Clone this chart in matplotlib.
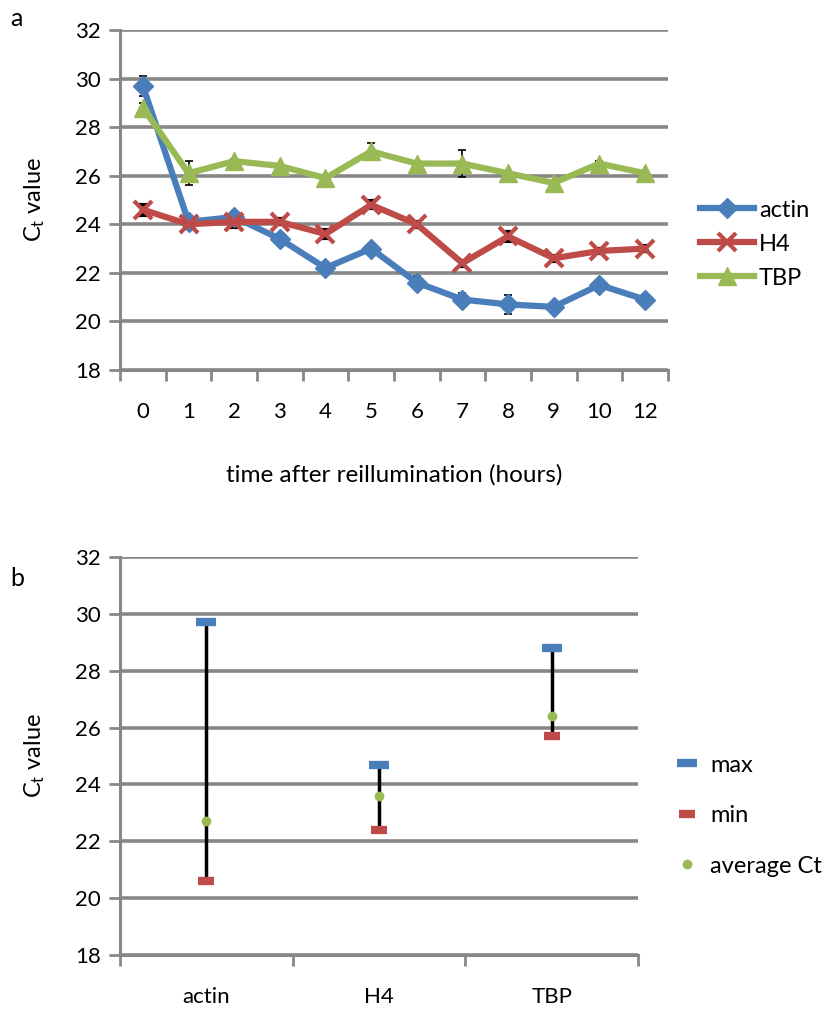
import matplotlib
matplotlib.use("Agg")
import matplotlib.pyplot as plt
import numpy as np

plt.rcParams['font.family'] = ['Lato', 'DejaVu Sans']
plt.rcParams['mathtext.fontset'] = 'custom'
plt.rcParams['mathtext.rm'] = 'Lato'
plt.rcParams['mathtext.it'] = 'Lato:italic'

# panel a data
hours = ['0', '1', '2', '3', '4', '5', '6', '7', '8', '9', '10', '12']
actin = [29.7, 24.1, 24.3, 23.4, 22.2, 23.0, 21.6, 20.9, 20.7, 20.6, 21.5, 20.9]
actin_err = [0.4, 0.15, 0.2, 0.15, 0.2, 0.15, 0.25, 0.25, 0.4, 0.15, 0.15, 0.1]
h4 = [24.6, 24.0, 24.1, 24.1, 23.6, 24.8, 24.0, 22.4, 23.5, 22.6, 22.9, 23.0]
h4_err = [0.2, 0.15, 0.2, 0.1, 0.15, 0.15, 0.1, 0.1, 0.2, 0.1, 0.1, 0.1]
tbp = [28.8, 26.1, 26.6, 26.4, 25.9, 27.0, 26.5, 26.5, 26.1, 25.7, 26.5, 26.1]
tbp_err = [0.2, 0.5, 0.1, 0.1, 0.1, 0.35, 0.1, 0.55, 0.1, 0.1, 0.1, 0.1]

# panel b data
genes = ['actin', 'H4', 'TBP']
ct_max = [29.7, 24.7, 28.8]
ct_min = [20.6, 22.4, 25.7]
ct_avg = [22.7, 23.6, 26.4]

blue = '#4A7EBB'
red = '#BE4B48'
green = '#98B954'
grid_c = '#878787'

fig = plt.figure(figsize=(8.25, 10.19), dpi=100)


def style_axes(ax, ncat):
    ax.set_ylim(18, 32)
    ax.set_yticks(np.arange(18, 33, 2))
    ax.set_xlim(-0.5, ncat - 0.5)
    ax.yaxis.grid(True, color=grid_c, linewidth=2.6)
    ax.set_axisbelow(True)
    for s in ['top', 'right']:
        ax.spines[s].set_visible(False)
    for s in ['left', 'bottom']:
        ax.spines[s].set_color(grid_c)
        ax.spines[s].set_linewidth(2.2)
    ax.set_xticks(np.arange(ncat))
    ax.tick_params(axis='x', length=0, labelsize=16, pad=23)
    ax.set_xticks(np.arange(ncat + 1) - 0.5, minor=True)
    ax.tick_params(axis='x', which='minor', length=8, width=2, color=grid_c)
    ax.tick_params(axis='y', length=8, width=2, color=grid_c, labelsize=16, pad=6)
    ax.set_ylabel(r'C$_{\mathrm{t}}$ value', fontsize=17, labelpad=20)


# ---- panel a ----
ax1 = fig.add_axes([0.1455, 0.6369, 0.664, 0.3337])
x = np.arange(len(hours))
ax1.errorbar(x, actin, yerr=actin_err, color=blue, lw=4.5, marker='D', ms=10,
             ecolor='black', elinewidth=1.2, capsize=3, capthick=1.2, label='actin', zorder=3)
ax1.errorbar(x, h4, yerr=h4_err, color=red, lw=4.5, marker='x', ms=13, mew=3,
             ecolor='black', elinewidth=1.2, capsize=3, capthick=1.2, label='H4', zorder=3)
ax1.errorbar(x, tbp, yerr=tbp_err, color=green, lw=4.5, marker='^', ms=13,
             ecolor='black', elinewidth=1.2, capsize=3, capthick=1.2, label='TBP', zorder=3)
style_axes(ax1, len(hours))
ax1.set_xticklabels(hours)
ax1.set_xlabel('time after reillumination (hours)', fontsize=17.5, labelpad=30)
h, l = ax1.get_legend_handles_labels()
h = [hh[0] for hh in h]
ax1.legend(h, l, loc='center left', bbox_to_anchor=(1.02, 0.37), frameon=False,
           fontsize=17, handlelength=2.3, labelspacing=0.55, handletextpad=0.2)

# ---- panel b ----
ax2 = fig.add_axes([0.1455, 0.0628, 0.628, 0.3906])
xb = np.arange(len(genes))
ax2.vlines(xb, ct_min, ct_max, color='black', lw=2.5, zorder=3)
ax2.plot(xb, ct_max, ls='none', marker='_', ms=15, mew=6, color=blue, label='max', zorder=4)
ax2.plot(xb, ct_min, ls='none', marker='_', ms=12, mew=6, color=red, label='min', zorder=4)
ax2.plot(xb, ct_avg, ls='none', marker='o', ms=6, color=green, label='average Ct', zorder=5)
style_axes(ax2, len(genes))
ax2.set_xticklabels(genes)
ax2.legend(loc='center left', bbox_to_anchor=(1.03, 0.35), frameon=False,
           fontsize=17, handlelength=1.0, labelspacing=1.25, handletextpad=0.5)

fig.text(10 / 825, 1 - 18 / 1019, 'a', fontsize=18, va='center', ha='left')
fig.text(10 / 825, 1 - 578 / 1019, 'b', fontsize=18, va='center', ha='left')

fig.savefig('out.png', dpi=100, facecolor='white')
